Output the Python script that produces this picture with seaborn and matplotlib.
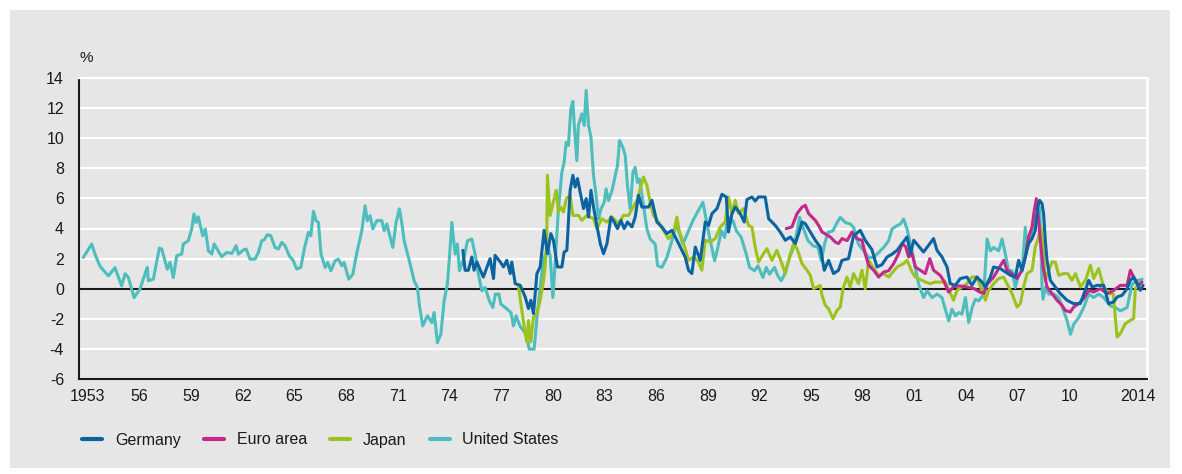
import pandas as pd
import seaborn as sns
import matplotlib.pyplot as plt
from matplotlib.patches import Rectangle
from matplotlib.lines import Line2D

us_year = [1953.23, 1953.72, 1953.91, 1954.20, 1954.69, 1955.07, 1955.46, 1955.66, 1955.85, 1956.18,
           1956.53, 1956.82, 1956.95, 1957.01, 1957.30, 1957.65, 1957.79, 1957.98, 1958.11, 1958.27,
           1958.46, 1958.66, 1958.95, 1959.04, 1959.33, 1959.53, 1959.66, 1959.78, 1959.91, 1960.17,
           1960.32, 1960.50, 1960.69, 1960.83, 1961.27, 1961.56, 1961.86, 1962.11, 1962.24, 1962.53,
           1962.69, 1962.92, 1963.21, 1963.40, 1963.60, 1963.73, 1963.92, 1964.12, 1964.37, 1964.56,
           1964.76, 1964.95, 1965.20, 1965.43, 1965.63, 1965.86, 1966.11, 1966.31, 1966.45, 1966.60,
           1966.75, 1966.89, 1967.04, 1967.28, 1967.43, 1967.61, 1967.86, 1968.05, 1968.25, 1968.38,
           1968.65, 1968.89, 1969.12, 1969.41, 1969.60, 1969.73, 1969.89, 1970.05, 1970.28, 1970.57,
           1970.71, 1970.86, 1971.21, 1971.40, 1971.59, 1971.73, 1971.87, 1972.17, 1972.45, 1972.64,
           1972.76, 1972.95, 1973.22, 1973.48, 1973.61, 1973.80, 1974.00, 1974.19, 1974.38, 1974.50,
           1974.64, 1974.83, 1974.96, 1975.08, 1975.35, 1975.55, 1975.80, 1975.99, 1976.18, 1976.38,
           1976.57, 1976.82, 1977.02, 1977.17, 1977.37, 1977.49, 1977.74, 1978.07, 1978.22, 1978.37,
           1978.61, 1978.96, 1979.13, 1979.42, 1979.60, 1979.81, 1980.00, 1980.23, 1980.35, 1980.51,
           1980.64, 1980.83, 1981.03, 1981.16, 1981.28, 1981.41, 1981.55, 1981.67, 1981.74, 1981.90,
           1981.99, 1982.19, 1982.33, 1982.44, 1982.58, 1982.72, 1982.87, 1983.02, 1983.16, 1983.30,
           1983.49, 1983.60, 1983.74, 1983.94, 1984.13, 1984.26, 1984.38, 1984.57, 1984.71, 1984.84,
           1985.00, 1985.16, 1985.29, 1985.42, 1985.54, 1985.97, 1986.16, 1986.45, 1986.59, 1986.84,
           1987.13, 1987.42, 1987.67, 1988.06, 1988.64, 1989.22, 1989.61, 1989.90, 1990.09, 1990.29,
           1990.48, 1990.68, 1990.97, 1991.16, 1991.45, 1991.74, 1991.93, 1992.22, 1992.42, 1992.71,
           1992.90, 1993.09, 1993.38, 1993.58, 1993.77, 1993.97, 1994.26, 1994.55, 1994.84, 1995.03,
           1995.33, 1995.62, 1995.91, 1996.10, 1996.29, 1996.49, 1996.78, 1996.97, 1997.20, 1997.49,
           1997.78, 1997.97, 1998.26, 1998.56, 1998.85, 1999.14, 1999.43, 1999.72, 2000.01, 2000.21,
           2000.50, 2000.69, 2000.88, 2001.08, 2001.37, 2001.56, 2001.75, 2002.04, 2002.24, 2002.53,
           2002.82, 2003.11, 2003.30, 2003.50, 2003.69, 2003.89, 2004.08, 2004.27, 2004.47, 2004.66,
           2004.86, 2005.05, 2005.24, 2005.53, 2005.73, 2005.92, 2006.11, 2006.40, 2006.60, 2006.79,
           2006.98, 2007.18, 2007.37, 2007.56, 2007.76, 2007.95, 2008.05, 2008.24, 2008.44, 2008.63,
           2008.79, 2008.92, 2008.98, 2009.12, 2009.31, 2009.60, 2009.89, 2010.18, 2010.38, 2010.57,
           2010.76, 2011.05, 2011.34, 2011.63, 2011.92, 2012.21, 2012.50, 2012.89, 2013.18, 2013.47,
           2013.86, 2014.15, 2014.44, 2014.73]
us_rate = [2.08, 2.97, 2.3, 1.5, 0.86, 1.4, 0.2, 1.0, 0.75, -0.58,
           0.0, 1.0, 1.42, 0.53, 0.64, 2.7, 2.64, 1.86, 1.3, 1.75,
           0.75, 2.2, 2.3, 2.97, 3.19, 3.97, 4.96, 4.4, 4.78, 3.52,
           3.97, 2.52, 2.3, 2.97, 2.13, 2.41, 2.35, 2.86, 2.3, 2.57,
           2.64, 1.97, 1.97, 2.41, 3.19, 3.24, 3.59, 3.52, 2.74, 2.64,
           3.08, 2.86, 2.19, 1.86, 1.31, 1.42, 2.86, 3.74, 3.52, 5.14,
           4.52, 4.4, 2.3, 1.42, 1.75, 1.2, 1.86, 1.97, 1.53, 1.75,
           0.64, 0.97, 2.4, 3.85, 5.51, 4.52, 4.85, 3.97, 4.52, 4.52,
           3.85, 4.3, 2.74, 4.4, 5.3, 4.4, 3.19, 1.86, 0.53, 0.09,
           -1.13, -2.46, -1.79, -2.24, -1.57, -3.57, -3.01, -0.8, 0.31, 2.08,
           4.4, 2.3, 2.97, 1.2, 2.08, 3.19, 3.3, 2.3, 0.97, -0.13,
           0.09, -0.8, -1.24, -0.35, -0.35, -1.02, -1.24, -1.57, -2.46, -1.79,
           -2.5, -3.0, -4.0, -4.0, -1.7, 0.53, 2.08, 2.74, 2.19, -0.58,
           1.75, 5.3, 7.73, 8.39, 9.72, 9.5, 11.94, 12.43, 11.05, 8.5,
           10.83, 11.6, 10.83, 13.16, 10.83, 10.05, 7.5, 6.18, 4.63, 5.3,
           5.74, 6.62, 5.85, 6.51, 7.5, 8.17, 9.83, 9.39, 8.84, 6.84,
           5.3, 7.73, 8.06, 7.06, 7.29, 3.97, 3.3, 2.97, 1.53, 1.42,
           2.08, 3.19, 4.3, 2.97, 4.52, 5.74, 3.41, 1.86, 2.74, 3.85,
           3.41, 4.74, 4.52, 3.85, 3.41, 2.3, 1.42, 1.2, 1.53, 0.75,
           1.42, 0.97, 1.42, 0.86, 0.53, 0.97, 2.08, 2.97, 4.74, 4.08,
           3.19, 2.86, 2.74, 1.86, 2.97, 3.74, 3.85, 4.3, 4.74, 4.4,
           4.3, 4.08, 2.97, 2.52, 2.08, 2.08, 2.41, 2.74, 3.19, 3.97,
           4.19, 4.3, 4.63, 3.97, 2.52, 1.42, 0.31, -0.58, -0.13, -0.58,
           -0.35, -0.58, -1.35, -2.13, -1.35, -1.79, -1.57, -1.68, -0.58, -2.24,
           -1.24, -0.69, -0.8, -0.35, 3.3, 2.52, 2.74, 2.52, 3.3, 2.3,
           1.2, 1.2, 0.09, 0.97, 1.2, 4.08, 2.74, 3.41, 4.3, 4.96,
           5.4, 0.09, -0.69, 0.09, -0.35, -0.35, -0.58, -1.46, -2.13, -3.01,
           -2.35, -1.91, -1.24, -0.35, -0.58, -0.35, -0.58, -1.13, -1.24, -1.46,
           -1.24, 0.31, 0.53, 0.64]

de_year = [1975.28, 1975.41, 1975.60, 1975.80, 1975.93, 1976.09, 1976.47, 1976.86, 1977.06, 1977.15,
           1977.45, 1977.64, 1977.83, 1978.03, 1978.12, 1978.32, 1978.61, 1978.90, 1979.09, 1979.23,
           1979.38, 1979.58, 1979.77, 1980.00, 1980.19, 1980.39, 1980.54, 1980.77, 1981.03, 1981.16,
           1981.32, 1981.51, 1981.67, 1981.80, 1981.94, 1982.09, 1982.29, 1982.44, 1982.58, 1982.72,
           1982.87, 1983.06, 1983.26, 1983.45, 1983.65, 1983.88, 1984.07, 1984.26, 1984.46, 1984.65,
           1984.84, 1985.10, 1985.29, 1985.48, 1985.68, 1986.06, 1986.26, 1986.55, 1986.84, 1987.13,
           1987.42, 1987.81, 1988.19, 1988.39, 1988.58, 1988.78, 1989.07, 1989.36, 1989.55, 1989.75,
           1990.04, 1990.33, 1990.58, 1990.71, 1990.91, 1991.10, 1991.39, 1991.62, 1991.78, 1992.07,
           1992.26, 1992.45, 1992.65, 1992.84, 1993.04, 1993.23, 1993.42, 1993.71, 1994.01, 1994.30,
           1994.59, 1994.78, 1994.98, 1995.17, 1995.46, 1995.75, 1996.04, 1996.27, 1996.52, 1996.81,
           1997.10, 1997.30, 1997.68, 1997.97, 1998.36, 1998.65, 1999.04, 1999.33, 1999.62, 1999.92,
           2000.21, 2000.50, 2000.79, 2001.08, 2001.28, 2001.47, 2002.04, 2002.62, 2002.82, 2003.11,
           2003.40, 2003.59, 2003.88, 2004.17, 2004.56, 2004.85, 2005.14, 2005.43, 2005.62, 2005.92,
           2006.11, 2006.50, 2007.08, 2007.37, 2007.56, 2007.76, 2007.95, 2008.14, 2008.34, 2008.53,
           2008.67, 2008.78, 2008.92, 2009.01, 2009.11, 2009.21, 2009.40, 2009.69, 2009.98, 2010.37,
           2010.75, 2011.14, 2011.43, 2011.63, 2011.83, 2012.12, 2012.50, 2012.79, 2013.08, 2013.28,
           2013.57, 2013.86, 2014.05, 2014.24, 2014.44, 2014.63, 2014.79]
de_rate = [2.55, 1.23, 1.23, 2.11, 1.23, 1.78, 0.78, 2.0, 0.68, 2.22,
           1.78, 1.45, 1.89, 1.01, 1.78, 0.34, 0.23, -0.54, -1.31, -0.76,
           -1.64, 1.01, 1.45, 3.88, 2.33, 3.66, 3.22, 1.45, 1.45, 2.44,
           2.55, 6.53, 7.53, 6.75, 7.31, 6.42, 5.32, 5.98, 4.76, 6.53,
           5.42, 4.21, 3.0, 2.33, 3.0, 4.76, 4.43, 3.99, 4.54, 3.99,
           4.43, 4.1, 4.76, 6.2, 5.42, 5.42, 5.87, 4.43, 4.1, 3.66,
           3.88, 3.0, 2.11, 1.23, 1.01, 2.77, 1.89, 4.43, 4.21, 4.99,
           5.32, 6.27, 6.09, 3.77, 4.99, 5.42, 4.99, 4.43, 5.92, 6.09,
           5.82, 6.09, 6.09, 6.09, 4.65, 4.43, 4.21, 3.77, 3.22, 3.44,
           3.0, 3.66, 4.43, 4.32, 3.77, 3.22, 2.77, 1.23, 1.89, 1.01,
           1.23, 1.89, 2.0, 3.5, 3.88, 3.22, 2.6, 1.45, 1.6, 2.11,
           2.3, 2.55, 3.0, 3.44, 2.33, 3.22, 2.44, 3.33, 2.55, 2.11,
           1.45, 0.34, 0.23, 0.68, 0.78, 0.23, 0.78, 0.45, 0.12, 0.78,
           1.45, 1.34, 0.9, 0.78, 1.89, 1.23, 2.11, 3.0, 3.33, 3.88,
           5.42, 5.87, 5.65, 4.99, 3.22, 1.89, 0.56, 0.12, -0.32, -0.76,
           -0.98, -0.98, -0.1, 0.56, 0.12, 0.23, 0.23, -0.98, -0.87, -0.54,
           -0.43, 0.01, 0.56, 0.78, 0.34, -0.1, 0.23]

ea_year = [1994.06, 1994.39, 1994.69, 1994.98, 1995.17, 1995.36, 1995.75, 1995.94, 1996.14, 1996.62,
           1996.91, 1997.10, 1997.30, 1997.60, 1997.88, 1998.17, 1998.46, 1998.65, 1998.85, 1999.14,
           1999.43, 1999.72, 2000.01, 2000.30, 2000.59, 2000.79, 2001.00, 2001.17, 2001.37, 2001.56,
           2001.85, 2002.14, 2002.40, 2002.62, 2003.00, 2003.20, 2003.49, 2003.78, 2004.10, 2004.56,
           2005.00, 2005.29, 2005.55, 2005.73, 2006.11, 2006.40, 2006.69, 2006.89, 2007.18, 2007.47,
           2007.76, 2007.95, 2008.14, 2008.34, 2008.47, 2008.59, 2008.69, 2008.82, 2008.98, 2009.21,
           2009.50, 2009.79, 2010.08, 2010.27, 2010.56, 2010.76, 2011.05, 2011.34, 2011.63, 2011.92,
           2012.31, 2012.70, 2013.08, 2013.47, 2013.86, 2014.05, 2014.24, 2014.53, 2014.73]
ea_rate = [3.99, 4.1, 4.99, 5.42, 5.54, 4.99, 4.54, 4.21, 3.77, 3.44,
           3.1, 3.0, 3.33, 3.2, 3.77, 3.33, 3.22, 2.33, 1.56, 1.23,
           0.78, 1.11, 1.2, 1.67, 2.33, 3.0, 2.8, 2.11, 2.33, 1.45,
           1.23, 1.01, 2.0, 1.23, 0.9, 0.56, -0.21, 0.12, 0.2, 0.12,
           0.0, -0.21, -0.3, 0.3, 0.78, 1.34, 1.89, 1.23, 1.01, 0.68,
           1.23, 2.11, 3.44, 4.1, 5.2, 5.98, 4.99, 3.22, 1.45, 0.12,
           -0.32, -0.76, -1.09, -1.43, -1.54, -1.21, -0.98, -0.65, -0.1, -0.21,
           0.01, -0.32, -0.1, 0.23, 0.23, 1.23, 0.78, 0.23, 0.45]

jp_year = [1978.51, 1978.90, 1979.00, 1979.09, 1979.23, 1979.38, 1979.58, 1979.77, 1979.96, 1980.06,
           1980.15, 1980.19, 1980.35, 1980.51, 1980.70, 1980.83, 1980.97, 1981.12, 1981.30, 1981.51,
           1981.67, 1981.99, 1982.19, 1982.48, 1982.87, 1983.06, 1983.35, 1983.65, 1983.94, 1984.32,
           1984.61, 1984.90, 1985.39, 1985.77, 1985.97, 1986.16, 1986.35, 1986.64, 1986.93, 1987.22,
           1987.51, 1987.71, 1987.86, 1988.10, 1988.39, 1988.68, 1988.97, 1989.16, 1989.36, 1989.65,
           1989.94, 1990.23, 1990.52, 1990.71, 1990.91, 1991.10, 1991.29, 1991.58, 1991.87, 1992.07,
           1992.26, 1992.45, 1992.74, 1992.94, 1993.23, 1993.52, 1993.81, 1994.01, 1994.30, 1994.49,
           1994.69, 1994.98, 1995.27, 1995.46, 1995.65, 1996.04, 1996.14, 1996.33, 1996.52, 1996.78,
           1997.01, 1997.20, 1997.36, 1997.59, 1997.78, 1997.97, 1998.26, 1998.46, 1998.65, 1998.85,
           1999.14, 1999.43, 1999.72, 2000.01, 2000.50, 2000.88, 2001.08, 2001.37, 2001.56, 2002.14,
           2002.43, 2002.72, 2003.30, 2003.78, 2003.98, 2004.56, 2004.85, 2005.14, 2005.63, 2005.82,
           2006.11, 2006.40, 2006.69, 2007.18, 2007.47, 2007.66, 2007.85, 2008.05, 2008.34, 2008.53,
           2008.72, 2008.86, 2008.98, 2009.11, 2009.31, 2009.50, 2009.69, 2009.89, 2010.18, 2010.42,
           2010.66, 2010.86, 2011.15, 2011.44, 2011.73, 2011.92, 2012.21, 2012.50, 2012.79, 2013.05,
           2013.28, 2013.47, 2013.76, 2014.05, 2014.24, 2014.34, 2014.53]
jp_rate = [0.12, -2.97, -3.52, -2.09, -3.52, -1.87, -1.64, -0.76, 0.5, 1.5,
           3.0, 7.53, 4.87, 5.65, 6.53, 5.09, 5.42, 5.09, 6.0, 6.2,
           4.87, 4.87, 4.54, 4.87, 4.65, 3.99, 4.65, 4.43, 4.76, 4.32,
           4.87, 4.87, 5.87, 7.41, 6.86, 5.76, 4.87, 4.43, 3.88, 3.33,
           3.66, 4.76, 3.77, 3.0, 1.89, 2.11, 1.78, 1.23, 3.22, 3.11,
           3.33, 4.1, 4.43, 6.09, 4.99, 5.87, 4.99, 5.32, 4.21, 4.1,
           2.77, 1.78, 2.33, 2.66, 1.89, 2.55, 1.67, 1.01, 2.33, 3.0,
           2.66, 1.67, 1.23, 0.9, 0.01, 0.23, -0.43, -1.09, -1.31, -1.98,
           -1.43, -1.21, 0.01, 0.78, 0.12, 1.01, 0.34, 1.23, 0.01, 1.89,
           1.34, 0.9, 1.0, 0.78, 1.45, 1.67, 1.89, 1.11, 0.78, 0.45,
           0.34, 0.45, 0.45, -0.76, -0.1, 0.34, 0.78, 0.78, -0.76, -0.1,
           0.34, 0.68, 0.78, -0.32, -1.21, -0.98, 0.12, 1.01, 1.23, 2.77,
           3.44, 4.1, 2.77, 0.56, 1.23, 1.78, 1.78, 0.9, 1.01, 1.0,
           0.56, 1.01, 0.12, 0.56, 1.56, 0.68, 1.34, 0.12, -0.32, -0.3,
           -3.19, -2.97, -2.31, -2.09, -1.98, 0.01, 0.34]

names = ['Germany', 'Euro area', 'Japan', 'United States']
colors = {'Germany': '#0b64a0', 'Euro area': '#c3288a',
          'Japan': '#9cc31d', 'United States': '#4dbdbd'}
series = {'Germany': (de_year, de_rate), 'Euro area': (ea_year, ea_rate),
          'Japan': (jp_year, jp_rate), 'United States': (us_year, us_rate)}

sns.set_style('white')
plt.rcParams['font.family'] = ['Liberation Sans Narrow', 'Liberation Sans', 'DejaVu Sans']

bg = '#e6e6e6'
fig = plt.figure(figsize=(11.82, 4.74), dpi=100, facecolor='white')
fig.patches.append(Rectangle((10 / 1182, 6 / 474), 1160 / 1182, 458 / 474,
                             transform=fig.transFigure, facecolor=bg,
                             edgecolor='none', zorder=-10))
ax = fig.add_axes([79.3 / 1182, 1 - 379.3 / 474, (1146.7 - 79.3) / 1182, (379.3 - 77.7) / 474])
ax.set_facecolor(bg)

# draw back to front: US, Japan, Euro area, Germany
for name in ['United States', 'Japan', 'Euro area', 'Germany']:
    yr, val = series[name]
    df = pd.DataFrame({'year': yr, 'rate': val})
    sns.lineplot(data=df, x='year', y='rate', ax=ax, color=colors[name],
                 linewidth=2.2, errorbar=None, legend=False)

ax.axhline(0, color='#1a1a1a', linewidth=1.5, zorder=1.5)
ax.set_xlim(1953, 2015)
ax.set_ylim(-6, 14)
ax.set_yticks(range(-6, 15, 2))
ax.set_yticklabels([str(v) for v in range(-6, 15, 2)])
ax.yaxis.grid(True, color='white', linewidth=1.6)
ax.set_axisbelow(True)

ax.set_xticks(range(1953, 2016))
ax.set_xticklabels([])
lab_pos = [1953.5 + 3 * i for i in range(20)] + [2014.5]
lab_txt = ['1953'] + ['%02d' % ((1953 + 3 * i) % 100) for i in range(1, 20)] + ['2014']
ax.set_xticks(lab_pos, minor=True)
ax.set_xticklabels(lab_txt, minor=True)
ax.tick_params(axis='x', which='major', length=6, width=1.3, color='#1a1a1a', direction='out')
ax.tick_params(axis='x', which='minor', length=0, pad=7, labelsize=11.5, labelcolor='#1a1a1a')
ax.tick_params(axis='y', length=5, width=1.3, color='#1a1a1a', pad=6,
               labelsize=11.5, labelcolor='#1a1a1a')
ax.set_xlabel('')
ax.set_ylabel('')

for s in ['left', 'bottom']:
    ax.spines[s].set_color('#1a1a1a')
    ax.spines[s].set_linewidth(1.5)
ax.spines['top'].set_color('white')
ax.spines['top'].set_linewidth(1.6)
ax.spines['right'].set_color('white')
ax.spines['right'].set_linewidth(2)

fig.text(80 / 1182, 1 - 58 / 474, '%', fontsize=11, color='#1a1a1a', va='center')

handles = [Line2D([], [], color=colors[n], linewidth=3) for n in names]
fig.legend(handles, names, loc='center left', bbox_to_anchor=(68 / 1182, 1 - 440 / 474),
           ncol=4, frameon=False, fontsize=11.5, handlelength=1.25, handletextpad=0.8,
           columnspacing=1.45, labelcolor='#1a1a1a')

fig.savefig('out.png', dpi=100, facecolor=fig.get_facecolor())
